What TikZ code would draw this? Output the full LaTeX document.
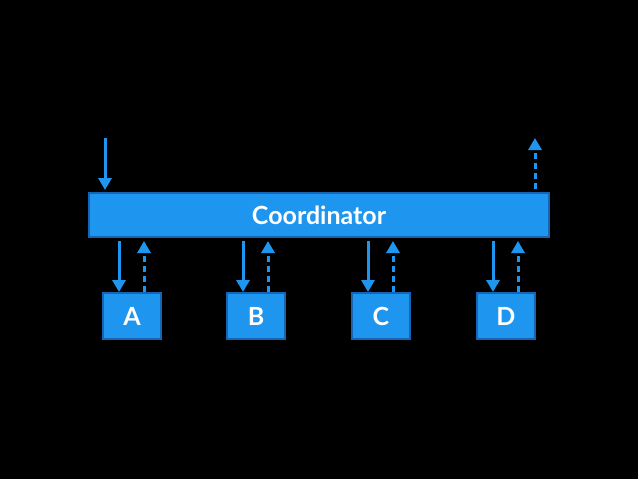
\documentclass[tikz,border=0pt]{standalone}
\usepackage{fontspec}
\setmainfont{Lato}
\usetikzlibrary{arrows.meta}

\definecolor{boxblue}{RGB}{30,150,240}
\definecolor{edgeblue}{RGB}{22,100,180}

\tikzset{
    box/.style={draw=edgeblue, line width=2pt, fill=boxblue, text=white, inner sep=0pt, font=\fontsize{25}{30}\selectfont\bfseries},
    req/.style={boxblue, line width=3pt, -{Triangle[length=12pt,width=13pt]}},
    resp/.style={req, dash pattern=on 6pt off 4pt}
}

\begin{document}
\begin{tikzpicture}[x=1pt, y=-1pt]
    \fill[black] (0,0) rectangle (638,479);
    \useasboundingbox (0,0) rectangle (638,479);

    \node[box, minimum width=460pt, minimum height=44pt] (coord) at (319,215) {Coordinator};
    \foreach \n/\x in {A/132, B/256, C/381, D/506} {
        \node[box, minimum width=58pt, minimum height=46pt] (\n) at (\x,316) {\n};
        % call down, reply up
        \draw[req] ([xshift=-13pt,yshift=-3pt]\n.north |- coord.south) -- ([xshift=-13pt]\n.north);
        \draw[resp] ([xshift=12pt]\n.north) -- ([xshift=12pt,yshift=-3pt]\n.north |- coord.south);
    }

    % client side
    \coordinate (in) at (105,138);
    \coordinate (out) at (535,138);
    \draw[req] (in) -- ([yshift=2pt]in |- coord.north);
    \draw[resp] ([yshift=3pt]out |- coord.north) -- (out);
\end{tikzpicture}
\end{document}
